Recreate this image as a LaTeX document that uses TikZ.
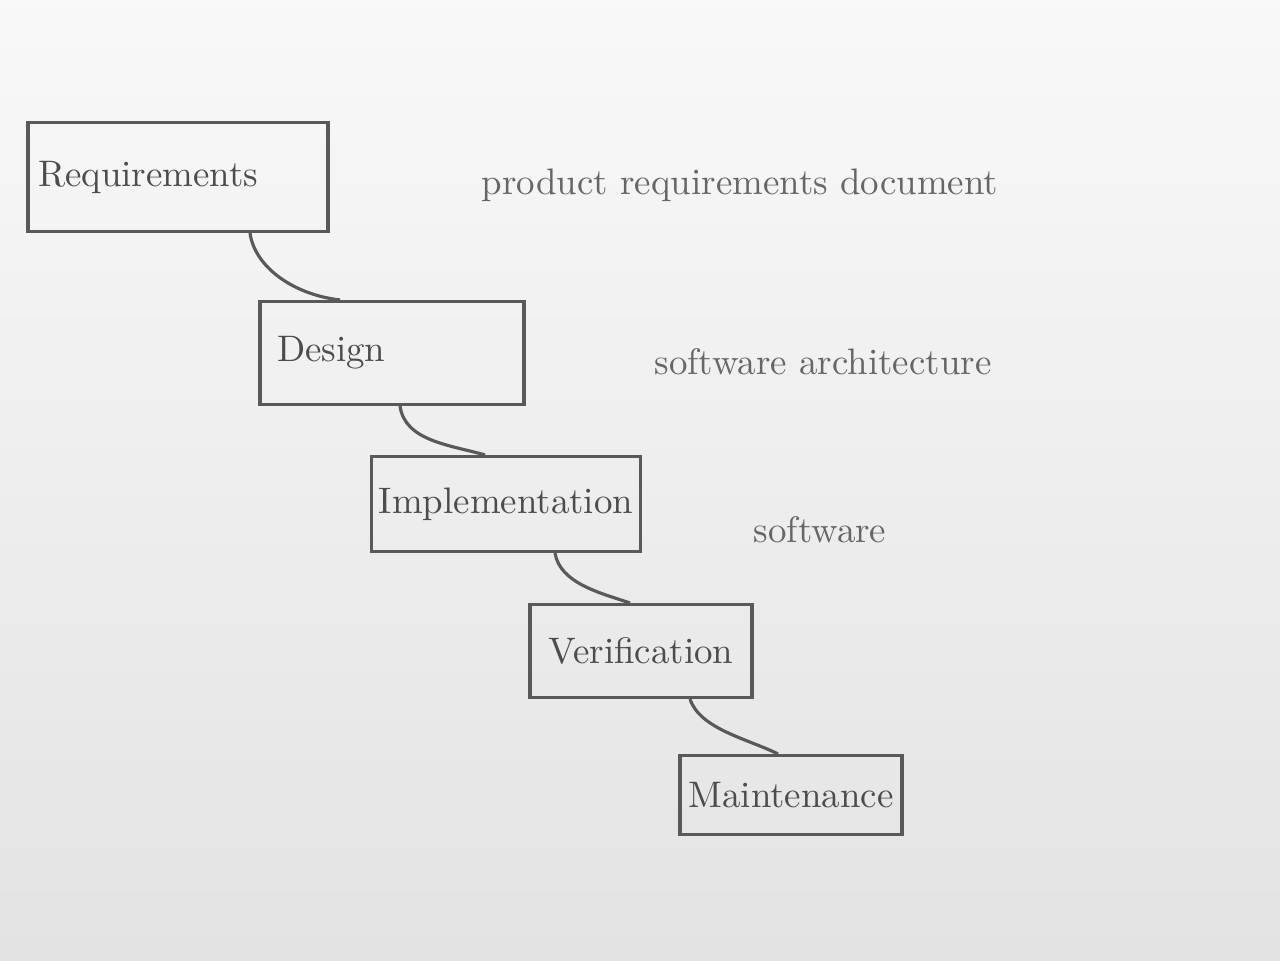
\documentclass[tikz,border=0pt]{standalone}
\usetikzlibrary{positioning}

\begin{document}
\begin{tikzpicture}[
        phase/.style={draw=black!65, line width=0.9pt, text=black!70, inner sep=2pt,
            font=\fontsize{10.5}{12}\selectfont},
        output/.style={text=black!60, font=\fontsize{10.5}{12}\selectfont},
        flow/.style={draw=black!65, line width=0.9pt}
    ]
    % paper
    \shade[top color=gray!5, bottom color=gray!22] (0,0) rectangle (12.8,-9.6);
    \useasboundingbox (0,0) rectangle (12.8,-9.6);

    % phases
    \node[phase, minimum width=3.0cm, minimum height=1.09cm, text width=2.8cm] (req) at (1.78,-1.77) {Requirements};
    \node[phase, minimum width=2.64cm, minimum height=1.03cm, text width=2.3cm] (des) at (3.92,-3.53) {Design};
    \node[phase, minimum width=2.59cm, minimum height=0.95cm] (imp) at (5.06,-5.04) {Implementation};
    \node[phase, minimum width=2.22cm, minimum height=0.93cm] (ver) at (6.41,-6.51) {Verification};
    \node[phase, minimum width=2.22cm, minimum height=0.79cm] (mai) at (7.91,-7.95) {Maintenance};

    % outputs
    \node[output] (prd) at (7.40,-1.85) {product requirements document};
    \node[output] (arc) at (8.23,-3.62) {software architecture};
    \node[output] (sw) at (8.20,-5.30) {software};

    % connectors
    \draw[flow] ([xshift=0.72cm]req.south) .. controls +(0.05,-0.35) and +(-0.45,0.05) .. ([xshift=-0.52cm]des.north);
    \draw[flow] ([xshift=0.08cm]des.south) .. controls +(0.05,-0.35) and +(-0.35,0.10) .. ([xshift=-0.21cm]imp.north);
    \draw[flow] ([xshift=0.49cm]imp.south) .. controls +(0.05,-0.30) and +(-0.30,0.10) .. ([xshift=-0.11cm]ver.north);
    \draw[flow] ([xshift=0.49cm]ver.south) .. controls +(0.10,-0.30) and +(-0.30,0.15) .. ([xshift=-0.13cm]mai.north);
\end{tikzpicture}
\end{document}
